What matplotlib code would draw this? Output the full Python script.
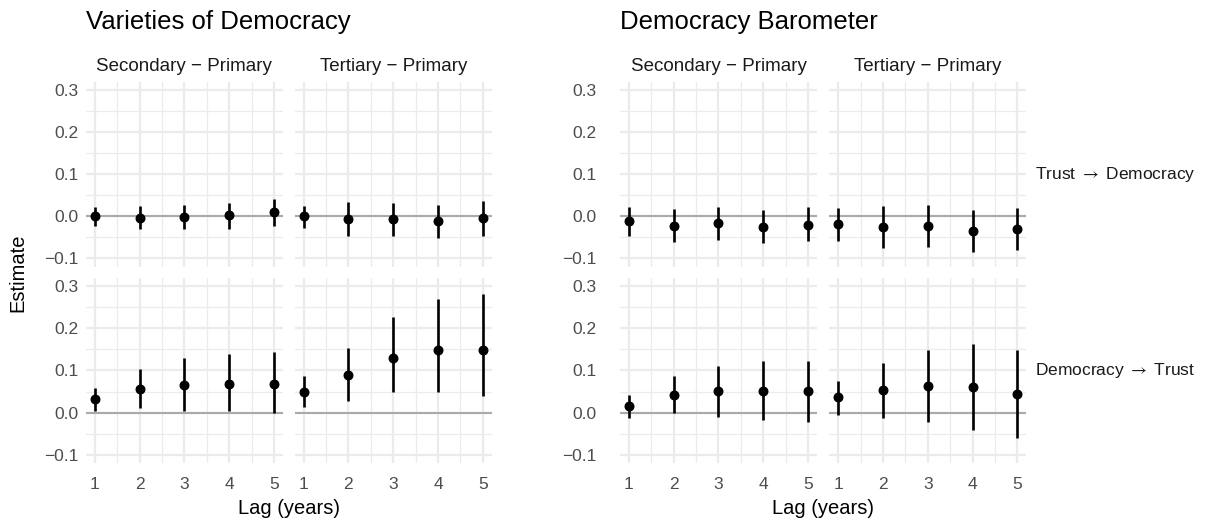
import matplotlib
matplotlib.use("Agg")
import matplotlib.pyplot as plt
import numpy as np

plt.rcParams["font.family"] = ["Liberation Sans", "DejaVu Sans"]
plt.rcParams["mathtext.fontset"] = "stixsans"

LAGS = [1, 2, 3, 4, 5]
DATASETS = ["Varieties of Democracy", "Democracy Barometer"]
COMPARISONS = ["Secondary \u2212 Primary", "Tertiary \u2212 Primary"]
DIRECTIONS = ["Trust $\\rightarrow$ Democracy", "Democracy $\\rightarrow$ Trust"]

# Varieties of Democracy, Trust -> Democracy
vdem_td_sec_est = [0.000, -0.003, -0.001, 0.003, 0.011]
vdem_td_sec_lo = [-0.023, -0.031, -0.029, -0.030, -0.022]
vdem_td_sec_hi = [0.022, 0.025, 0.028, 0.032, 0.041]
vdem_td_ter_est = [0.000, -0.006, -0.007, -0.011, -0.005]
vdem_td_ter_lo = [-0.027, -0.046, -0.047, -0.051, -0.046]
vdem_td_ter_hi = [0.025, 0.033, 0.032, 0.028, 0.036]

# Varieties of Democracy, Democracy -> Trust
vdem_dt_sec_est = [0.032, 0.057, 0.065, 0.068, 0.067]
vdem_dt_sec_lo = [0.003, 0.011, 0.003, 0.003, -0.002]
vdem_dt_sec_hi = [0.059, 0.103, 0.129, 0.140, 0.144]
vdem_dt_ter_est = [0.050, 0.090, 0.130, 0.148, 0.148]
vdem_dt_ter_lo = [0.014, 0.028, 0.049, 0.049, 0.040]
vdem_dt_ter_hi = [0.087, 0.154, 0.226, 0.269, 0.282]

# Democracy Barometer, Trust -> Democracy
db_td_sec_est = [-0.010, -0.022, -0.016, -0.025, -0.020]
db_td_sec_lo = [-0.046, -0.060, -0.057, -0.063, -0.058]
db_td_sec_hi = [0.023, 0.018, 0.023, 0.015, 0.021]
db_td_ter_est = [-0.018, -0.025, -0.022, -0.034, -0.030]
db_td_ter_lo = [-0.058, -0.076, -0.074, -0.085, -0.080]
db_td_ter_hi = [0.020, 0.025, 0.027, 0.015, 0.020]

# Democracy Barometer, Democracy -> Trust
db_dt_sec_est = [0.015, 0.042, 0.051, 0.051, 0.051]
db_dt_sec_lo = [-0.012, 0.000, -0.011, -0.017, -0.021]
db_dt_sec_hi = [0.043, 0.087, 0.111, 0.122, 0.123]
db_dt_ter_est = [0.036, 0.054, 0.064, 0.061, 0.045]
db_dt_ter_lo = [-0.005, -0.012, -0.021, -0.042, -0.061]
db_dt_ter_hi = [0.074, 0.118, 0.148, 0.162, 0.149]

panels = {
    (0, 0, 0): (vdem_td_sec_est, vdem_td_sec_lo, vdem_td_sec_hi),
    (0, 0, 1): (vdem_td_ter_est, vdem_td_ter_lo, vdem_td_ter_hi),
    (0, 1, 0): (vdem_dt_sec_est, vdem_dt_sec_lo, vdem_dt_sec_hi),
    (0, 1, 1): (vdem_dt_ter_est, vdem_dt_ter_lo, vdem_dt_ter_hi),
    (1, 0, 0): (db_td_sec_est, db_td_sec_lo, db_td_sec_hi),
    (1, 0, 1): (db_td_ter_est, db_td_ter_lo, db_td_ter_hi),
    (1, 1, 0): (db_dt_sec_est, db_dt_sec_lo, db_dt_sec_hi),
    (1, 1, 1): (db_dt_ter_est, db_dt_ter_lo, db_dt_ter_hi),
}

W, H = 1211, 520
fig = plt.figure(figsize=(W / 100, H / 100), dpi=100)

COLS = [[(85.7, 283.0), (294.7, 491.7)], [(620.0, 817.0), (829.3, 1026.3)]]
ROWS = [(81.7, 266.8), (277.6, 463.3)]
YPAD = [5, 17]


def px_axes(x0, x1, y0, y1):
    return fig.add_axes([x0 / W, 1 - y1 / H, (x1 - x0) / W, (y1 - y0) / H])


GRID = "#EBEBEB"
for d in range(2):
    for r in range(2):
        for c in range(2):
            x0, x1 = COLS[d][c]
            y0, y1 = ROWS[r]
            ax = px_axes(x0, x1, y0, y1)
            est, lo, hi = panels[(d, r, c)]
            ax.set_xlim(0.8, 5.2)
            ax.set_ylim(-0.12, 0.32)
            ax.set_xticks(LAGS)
            ax.set_xticks([1.5, 2.5, 3.5, 4.5], minor=True)
            ax.set_yticks([-0.1, 0.0, 0.1, 0.2, 0.3])
            ax.set_yticks([-0.05, 0.05, 0.15, 0.25], minor=True)
            ax.grid(which="major", color=GRID, linewidth=1.6)
            ax.grid(which="minor", color=GRID, linewidth=0.9)
            ax.set_axisbelow(True)
            for s in ax.spines.values():
                s.set_visible(False)
            ax.tick_params(which="both", length=0, labelsize=12.5,
                           labelcolor="#4D4D4D")
            ax.tick_params(axis="y", pad=YPAD[d])
            ax.tick_params(axis="x", pad=10)
            ax.axhline(0, color="#AAAAAA", linewidth=1.5, zorder=1)
            ax.vlines(LAGS, lo, hi, color="black", linewidth=1.9, zorder=2)
            ax.scatter(LAGS, est, s=38, color="black", zorder=3)
            if c == 0:
                ax.set_yticklabels(["\u22120.1", "0.0", "0.1", "0.2", "0.3"])
            else:
                ax.set_yticklabels([])
            if r == 1:
                ax.set_xticklabels([str(v) for v in LAGS])
            else:
                ax.set_xticklabels([])
            if r == 0:
                ax.text(0.5, 1.035, COMPARISONS[c], transform=ax.transAxes,
                        ha="center", va="bottom", fontsize=13.5,
                        color="#1A1A1A")
            if d == 1 and c == 1:
                ax.text(1.045, 0.5, DIRECTIONS[r], transform=ax.transAxes,
                        ha="left", va="center", fontsize=12.5,
                        color="#1A1A1A")

    gx0 = COLS[d][0][0]
    gx1 = COLS[d][1][1]
    fig.text(gx0 / W, 1 - 22 / H, DATASETS[d], ha="left", va="center",
             fontsize=18.5, color="black")
    fig.text((gx0 + gx1) / 2 / W, 1 - 508 / H, "Lag (years)", ha="center",
             va="center", fontsize=14.5, color="black")

fig.text(18 / W, 1 - 272.5 / H, "Estimate", rotation=90, ha="center",
         va="center", fontsize=14.5, color="black")

fig.savefig("out.png", dpi=100, facecolor="white")
